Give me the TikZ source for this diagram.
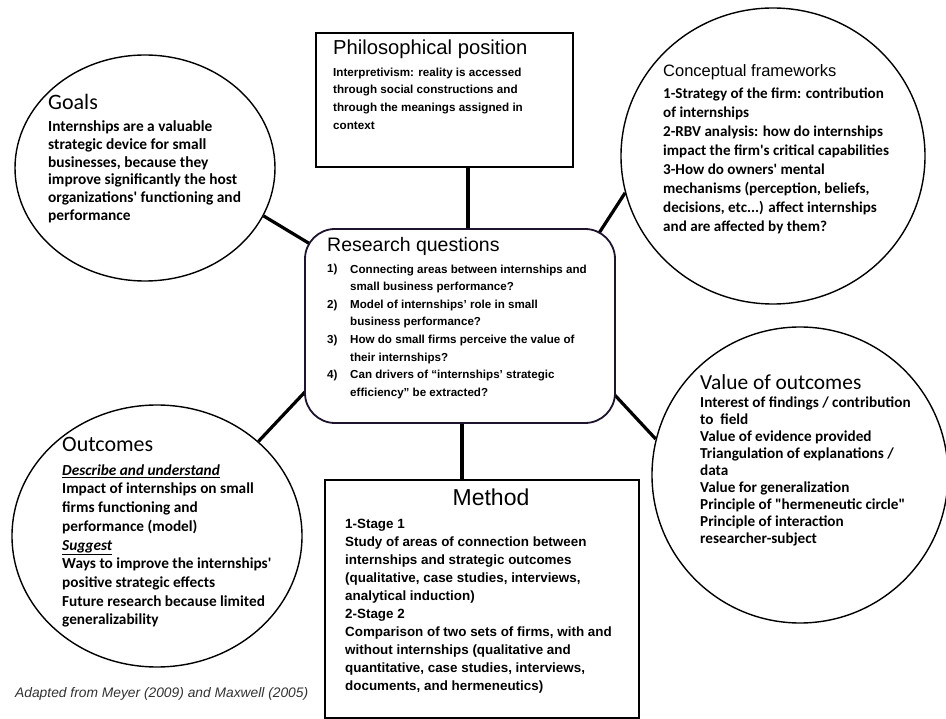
\documentclass[tikz,border=0pt]{standalone}
\usepackage{fontspec}
\setmainfont{Liberation Sans}
\newfontfamily\calfont{Carlito}
\usetikzlibrary{shapes.geometric,backgrounds,calc}
\newcommand{\fl}{\rule{0pt}{14pt}}
\begin{document}
\begin{tikzpicture}[x=1pt,y=-1pt,
  oval/.style={draw, ellipse, line width=1.4pt, fill=white, inner sep=0pt},
  pbox/.style={draw, rectangle, line width=1.8pt, fill=white, inner sep=0pt},
  rqbox/.style={draw={rgb,255:red,30;green,20;blue,45}, rectangle, rounded corners=30pt, line width=1.8pt, fill=white, inner sep=0pt},
  link/.style={line width=3.2pt},
  ttl/.style={anchor=base west, inner sep=0pt, font=\fontsize{19.5}{22}\selectfont},
  cttl/.style={anchor=base west, inner sep=0pt, font=\calfont\fontsize{22}{24}\selectfont},
  abody/.style={anchor=north west, inner sep=0pt, align=left},
  num/.style={anchor=base west, inner sep=0pt, font=\bfseries\fontsize{11.6}{17.6}\selectfont},
]
\useasboundingbox (0,0) rectangle (946,719);

% shapes
\node[oval, minimum width=260pt, minimum height=226pt] (goals) at (145,168) {};
\node[pbox, minimum width=257pt, minimum height=134pt] (phil) at (444.5,100) {};
\node[oval, minimum width=304pt, minimum height=296pt] (cf) at (773,156) {};
\node[rqbox, minimum width=310pt, minimum height=194pt] (rq) at (460,326) {};
\node[oval, minimum width=290pt, minimum height=262pt] (out) at (157,536) {};
\node[oval, minimum width=296pt, minimum height=296pt] (val) at (800,475) {};
\node[pbox, minimum width=314pt, minimum height=238pt] (method) at (482,599) {};

% connectors
\coordinate (ptop) at ($(phil.south)+(23.5,0)$);
\coordinate (mtop) at ($(rq.south)+(2,0)$);
\begin{scope}[on background layer]
  \draw[link] (goals.-22.7) -- ([shift={(-120,-64)}]rq.center);
  \draw[link] (cf.194.2) -- ([shift={(108,-45)}]rq.center);
  \draw[link] (out.43) -- ([shift={(-125,34)}]rq.center);
  \draw[link] (val.166) -- ([shift={(125,37)}]rq.center);
  \draw[link] (ptop) -- (ptop |- rq.north);
  \draw[link] (mtop) -- (mtop |- method.north);
\end{scope}

% Goals
\node[cttl] (goalsT) at (48,110) {Goals};
\node[abody, font=\calfont\bfseries\fontsize{15.4}{17.7}\selectfont] (goalsB) at (48,117.7) {\fl Internships are a valuable\\
strategic device for small\\
businesses, because they\\
improve significantly the host\\
organizations' functioning and\\
performance};

% Philosophical position
\node[ttl, font=\fontsize{20.2}{22}\selectfont] (philT) at (333,55) {Philosophical position};
\node[abody, font=\bfseries\fontsize{11.65}{17.8}\selectfont] (philB) at (333,62) {\fl Interpretivism: reality is accessed\\
through social constructions and\\
through the meanings assigned in\\
context};

% Conceptual frameworks
\node[anchor=base west, inner sep=0pt, font=\fontsize{16.5}{19}\selectfont] (cfT) at (663,77) {Conceptual frameworks};
\node[abody, font=\calfont\bfseries\fontsize{15.1}{19}\selectfont] (cfB) at (663,84) {\fl 1-Strategy of the firm: contribution\\
of internships\\
2-RBV analysis: how do internships\\
impact the firm's critical capabilities\\
3-How do owners' mental\\
mechanisms (perception, beliefs,\\
decisions, etc...) affect internships\\
and are affected by them?};

% Research questions
\node[ttl] (rqT) at (327,252) {Research questions};
\node[num] (n1) at (327,273) {1)};
\node[num] (n2) at (327,308.2) {2)};
\node[num] (n3) at (327,343.4) {3)};
\node[num] (n4) at (327,378.6) {4)};
\node[abody, font=\bfseries\fontsize{11.6}{17.6}\selectfont] (rqB) at (350,259) {\fl Connecting areas between internships and\\
small business performance?\\
Model of internships' role in small\\
business performance?\\
How do small firms perceive the value of\\
their internships?\\
Can drivers of “internships' strategic\\
efficiency” be extracted?};

% Outcomes
\node[cttl] (outT) at (62,452) {Outcomes};
\node[abody, font=\calfont\bfseries\fontsize{15.3}{18.7}\selectfont] (outB) at (62,461) {\fl\underline{\textit{Describe and understand}}\\
Impact of internships on small\\
firms functioning and\\
performance (model)\\
\underline{\textit{Suggest}}\\
Ways to improve the internships'\\
positive strategic effects\\
Future research because limited\\
generalizability};

% Value of outcomes
\node[cttl, font=\calfont\fontsize{21.4}{24}\selectfont] (valT) at (700,390) {Value of outcomes};
\node[abody, font=\calfont\bfseries\fontsize{15.2}{17}\selectfont] (valB) at (700,393) {\fl Interest of findings / contribution\\
to~ field\\
Value of evidence provided\\
Triangulation of explanations /\\
data\\
Value for generalization\\
Principle of "hermeneutic circle"\\
Principle of interaction\\
researcher-subject};

% Method
\node[anchor=base, inner sep=0pt, font=\fontsize{23}{26}\selectfont] (methT) at (491,505) {Method};
\node[abody, font=\bfseries\fontsize{13.4}{18}\selectfont] (methB) at (345,514) {\fl 1-Stage 1\\
Study of areas of connection between\\
internships and strategic outcomes\\
(qualitative, case studies, interviews,\\
analytical induction)\\
2-Stage 2\\
Comparison of two sets of firms, with and\\
without internships (qualitative and\\
quantitative, case studies, interviews,\\
documents, and hermeneutics)};

% caption
\node[anchor=base west, inner sep=0pt, text={rgb,255:red,50;green,50;blue,50}, font=\itshape\fontsize{13.8}{15}\selectfont] (cap) at (15,697) {Adapted from Meyer (2009) and Maxwell (2005)};
\end{tikzpicture}
\end{document}
